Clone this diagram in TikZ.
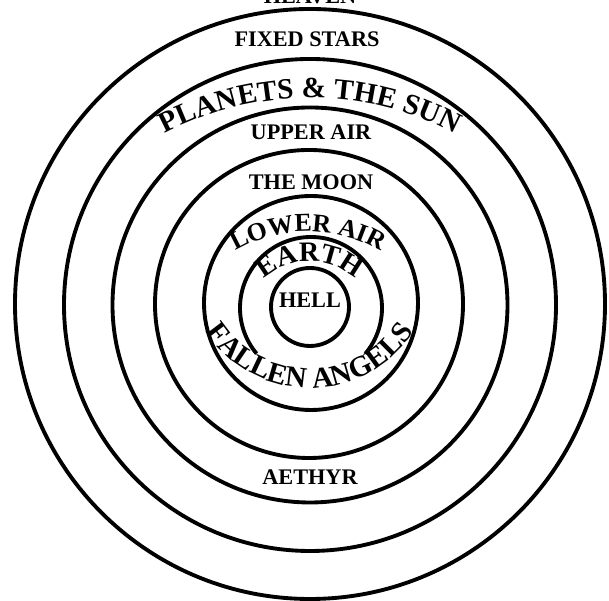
\documentclass[tikz,border=0pt]{standalone}
\usepackage{fontspec}
\setmainfont{Liberation Serif}
\usepackage{tikz}
\usetikzlibrary{decorations.text}

\begin{document}
\begin{tikzpicture}[x=0.03cm, y=0.03cm,
    ring/.style={draw=black, line width=3.3pt},
    spherename/.style={font=\bfseries\fontsize{19}{19}\selectfont, inner sep=0pt, anchor=base},
    arctext/.style={decorate, decoration={text along path, text align=center, text={#1}}}
]
    \clip (0,0) rectangle (609,601);

    % Centres of the spheres
    \coordinate (o1) at (310,297);
    \coordinate (o2) at (310,296);
    \coordinate (o3) at (310,296);
    \coordinate (o4) at (309,297);
    \coordinate (o5) at (311,298);
    \coordinate (o6) at (311,293);
    \coordinate (o7) at (310,294);

    % Spheres
    \draw[ring] (o1) circle[radius=295];
    \draw[ring] (o2) circle[radius=246];
    \draw[ring] (o3) circle[radius=197.5];
    \draw[ring] (o4) circle[radius=154];
    \draw[ring] (o5) circle[radius=107];
    \draw[ring] (o6) ++(-40:71) arc[start angle=-40, end angle=220, radius=71];
    \draw[ring] (o7) circle[radius=39];

    % Straight labels
    \node[spherename] (heaven) at (310,597) {HEAVEN};
    \node[spherename] (fixedstars) at (307,554) {FIXED STARS};
    \node[spherename] (upperair) at (311,461) {UPPER AIR};
    \node[spherename] (moon) at (311,411) {THE MOON};
    \node[spherename] (hell) at (310,293) {HELL};
    \node[spherename] (aethyr) at (310,116) {AETHYR};

    % Curved labels
    \path[arctext={|\bfseries\fontsize{25}{25}\selectfont|PLANETS {\&} THE SUN}]
        (310,193) ++(125:310) arc[start angle=125, end angle=55, radius=310];
    \path[arctext={|\bfseries\fontsize{22}{22}\selectfont|LOWER AIR}]
        (308,225) ++(130:144.5) arc[start angle=130, end angle=50, radius=144.5];
    \path[arctext={|\bfseries\fontsize{24}{24}\selectfont|EARTH}]
        (310,271) ++(150:68.7) arc[start angle=150, end angle=30, radius=68.7];
    \path[arctext={|\bfseries\fontsize{25}{25}\selectfont|FALLEN ANGELS}]
        (310,337) ++(195:124) arc[start angle=195, end angle=345, radius=124];
\end{tikzpicture}
\end{document}
